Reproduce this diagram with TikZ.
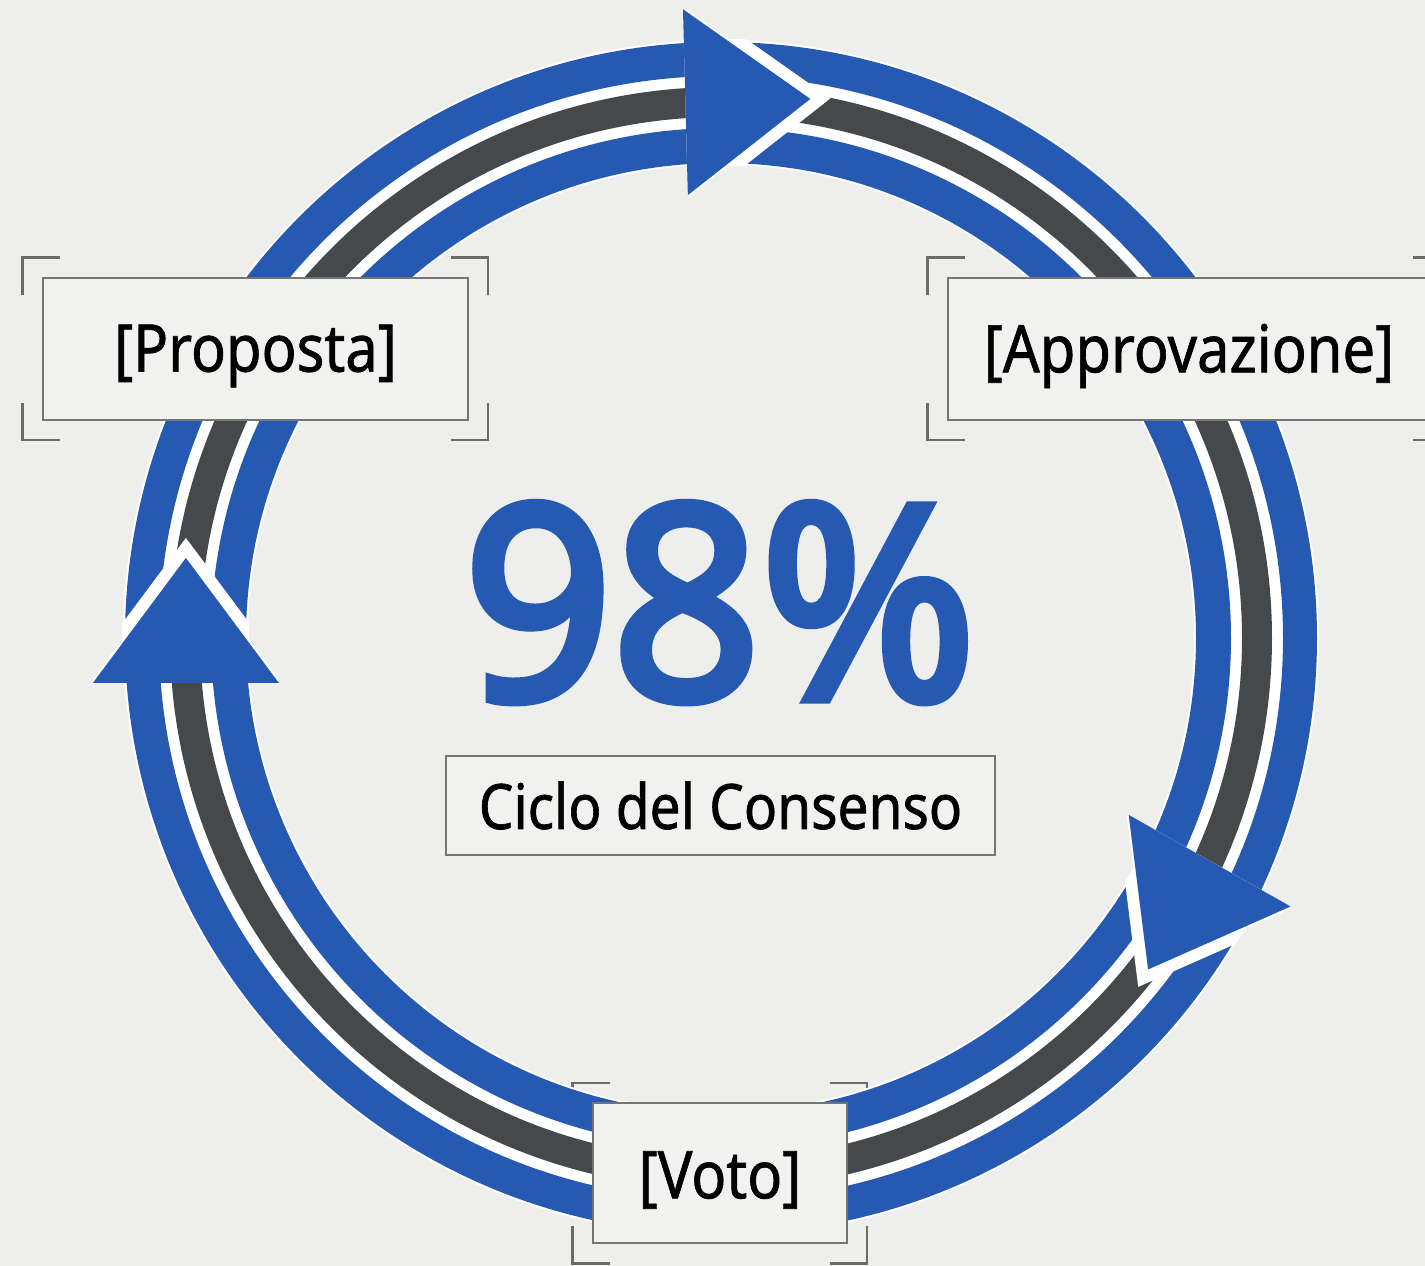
\documentclass[tikz,border=0pt]{standalone}
\usepackage{fontspec}
\setmainfont{Noto Sans}
\newfontfamily\labelfont[FakeStretch=0.88, FakeBold=1]{Noto Sans}
\newfontfamily\figurefont[FakeStretch=0.96, FakeBold=3.5]{Noto Sans}

\definecolor{paper}{HTML}{EEEEEC}
\definecolor{ringblue}{HTML}{2559B2}
\definecolor{ringgrey}{HTML}{46494B}
\definecolor{boxfill}{HTML}{F1F1EF}
\definecolor{boxline}{HTML}{757575}
\definecolor{markline}{HTML}{6B6B6B}

\pgfdeclarelayer{marks}
\pgfsetlayers{marks,main}

\tikzset{
  stagebox/.style={draw=boxline, line width=2.5pt, fill=boxfill,
    minimum width=#1, minimum height=142pt, inner sep=0pt, text=black,
    font=\labelfont\fontsize{65.8}{70}\selectfont},
  captionbox/.style={draw=boxline, line width=2pt, fill=boxfill,
    minimum width=549pt, minimum height=99pt, inner sep=0pt, text=black,
    font=\labelfont\fontsize{62.5}{66}\selectfont},
  markstroke/.style={draw=markline, line width=2.5pt},
  band/.style={line width=#1},
}

% label text set a little below the box centre
\newcommand\lowered[1]{\raisebox{-7pt}[\height][\depth]{#1}}

% corner marks set 19pt outside a box, arms 37pt long
\newcommand\cornermarks[1]{%
  \draw[markstroke] ([shift={(-19,-18)}]#1.north west) -- ++(0,37) -- ++(37,0);
  \draw[markstroke] ([shift={(-18,19)}]#1.north east) -- ++(37,0) -- ++(0,-37);
  \draw[markstroke] ([shift={(-19,18)}]#1.south west) -- ++(0,-37) -- ++(37,0);
  \draw[markstroke] ([shift={(-18,-19)}]#1.south east) -- ++(37,0) -- ++(0,37);
}

% arrowhead on the ring: #1 = polar angle of its base, #2 = heading
\newcommand\flowhead[2]{%
  \begin{scope}[even odd rule]
    \clip (0,0) circle (599) (0,0) circle (472);
    \fill[white, shift={(#1:537)}, rotate=#2]
      (0,108) -- (145,0) -- (0,-108) -- cycle;
  \end{scope}
  \begin{scope}[shift={(#1:537)}, rotate=#2]
    \draw[white, line width=4pt, line join=miter] (0,93) -- (125,0) -- (0,-93);
    \fill[ringblue] (0,93) -- (125,0) -- (0,-93) -- cycle;
  \end{scope}
}

\begin{document}
\begin{tikzpicture}[x=1pt, y=1pt]
  \useasboundingbox (-721,-628) rectangle (704,638);
  \begin{pgfonlayer}{marks}
    \fill[paper] (-721,-628) rectangle (704,638);
  \end{pgfonlayer}

  % the cycle ring: white halo, outer blue, grey core, inner blue
  \draw[white, band=125pt] (0,0) circle (535.5);
  \draw[ringblue, band=34pt] (0,0) circle (579);
  \draw[ringgrey, band=30pt] (0,0) circle (536);
  \draw[ringblue, band=35pt] (0,0) circle (492.5);

  % clockwise arrowheads
  \flowhead{93.8}{1.5}
  \flowhead{-24.5}{-119.5}
  \flowhead{184.8}{90}

  % stage boxes
  \node (proposta) [stagebox=425pt] at (-465.5,289) {\lowered{[Proposta]}};
  \node (approvazione) [stagebox=482pt] at (468,289) {\lowered{[Approvazione]}};
  \node (voto) [stagebox=254pt, minimum height=140pt] at (-1,-535) {\lowered{[Voto]}};

  \begin{pgfonlayer}{marks}
    \cornermarks{proposta}
    \cornermarks{approvazione}
    \cornermarks{voto}
  \end{pgfonlayer}

  % centre figure and caption
  \node (pct) [anchor=base, inner sep=0pt, text=ringblue,
    font=\figurefont\fontsize{270}{290}\selectfont] at (-1,-61) {98\%};
  \node (caption) [captionbox] at (-0.5,-167.5) {Ciclo del Consenso};
\end{tikzpicture}
\end{document}
